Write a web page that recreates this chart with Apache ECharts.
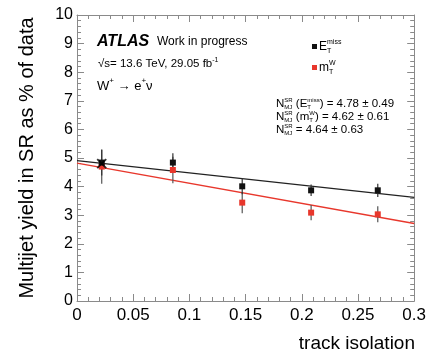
<!DOCTYPE html>
<html>
<head>
<meta charset="utf-8">
<script src="https://cdn.jsdelivr.net/npm/echarts@6/dist/echarts.min.js"></script>
<style>
  html, body { margin: 0; padding: 0; background: #fff; }
  #chart { width: 429px; height: 351px; }
</style>
</head>
<body>
<div id="chart"></div>
<script>
// track isolation bins
var isoBins = [0.022, 0.0853, 0.147, 0.2083, 0.2676];
// multijet yield (% of data), E_T^miss template
var metYield = [4.84, 4.84, 4.01, 3.87, 3.87];
var metErr = [0.45, 0.33, 0.28, 0.20, 0.23];
// multijet yield (% of data), m_T^W template
var mtwYield = [4.70, 4.58, 3.44, 3.09, 3.03];
var mtwErr = [0.60, 0.46, 0.37, 0.27, 0.28];
// linear fits, values at the edges of the x range
var fitX = [0, 0.3];
var metFit = [4.91, 3.62];
var mtwFit = [4.82, 2.71];
// combined point (cross marker)
var comboX = [0.022];
var comboY = [4.80];

var FONT = '"Liberation Sans", Arial, sans-serif';
var RED = '#e8372c';
var BLACK = '#111';
var FRAME = '#8a8a8a';

var measure = document.createElement('canvas').getContext('2d');
function textWidth(t, size, pre) {
  measure.font = (pre || '') + ' ' + size + 'px ' + FONT;
  return measure.measureText(t).width;
}

// text with super/subscripts, parts = [{t, sup, sub}]
function formula(x, y, parts, size, color, smallSize, shift) {
  var els = [];
  var cx = x;
  var small = smallSize || Math.round(size * 0.62);
  var k = shift || 0.38;
  parts.forEach(function(p) {
    if (p.t) {
      els.push({type: 'text', x: cx, y: y, silent: true,
        style: {text: p.t, font: size + 'px ' + FONT, fill: color, align: 'left', verticalAlign: 'middle'}});
      cx += textWidth(p.t, size);
    }
    var sw = 0;
    if (p.sup) {
      els.push({type: 'text', x: cx, y: y - size * k, silent: true,
        style: {text: p.sup, font: small + 'px ' + FONT, fill: color, align: 'left', verticalAlign: 'middle'}});
      sw = textWidth(p.sup, small);
    }
    if (p.sub) {
      els.push({type: 'text', x: cx, y: y + size * k * 0.85, silent: true,
        style: {text: p.sub, font: small + 'px ' + FONT, fill: color, align: 'left', verticalAlign: 'middle'}});
      sw = Math.max(sw, textWidth(p.sub, small));
    }
    cx += sw;
  });
  return els;
}

function pairs(xs, ys) {
  return xs.map(function(x, i) { return [x, ys[i]]; });
}

function errorSeries(ys, errs, color) {
  return {
    type: 'custom',
    z: 3,
    data: isoBins.map(function(x, i) { return [x, ys[i] - errs[i], ys[i] + errs[i]]; }),
    renderItem: function(params, api) {
      var lo = api.coord([api.value(0), api.value(1)]);
      var hi = api.coord([api.value(0), api.value(2)]);
      return {type: 'line', shape: {x1: lo[0], y1: lo[1], x2: hi[0], y2: hi[1]},
        style: {stroke: color, lineWidth: 1.2}};
    }
  };
}

var axisCommon = {
  type: 'value',
  axisLine: {show: true, onZero: false, lineStyle: {color: FRAME, width: 1}},
  axisTick: {show: true, inside: true, length: 7, lineStyle: {color: FRAME}},
  minorTick: {show: true, splitNumber: 5, length: 4, lineStyle: {color: FRAME}},
  splitLine: {show: false}
};

var chart = echarts.init(document.getElementById('chart'), null, {renderer: 'canvas'});

var graphics = [];
graphics.push({type: 'text', left: 97, top: 34, silent: true,
  style: {text: 'ATLAS', font: 'italic bold 16px ' + FONT, fill: '#000'}});
graphics.push({type: 'text', left: 157, top: 36, silent: true,
  style: {text: 'Work in progress', font: '12px ' + FONT, fill: '#000'}});
graphics = graphics.concat(formula(98, 64, [{t: '\u221As= 13.6 TeV, 29.05 fb', sup: '-1'}], 11.5, '#000', 7));
graphics = graphics.concat(formula(97, 86, [{t: 'W', sup: '+'}, {t: ' \u2192 e', sup: '+'}, {t: '\u03BD'}], 13, '#000', 8));
// legend
graphics.push({type: 'rect', shape: {x: 312, y: 44, width: 5, height: 5}, style: {fill: BLACK}, silent: true});
graphics = graphics.concat(formula(319, 47, [{t: 'E', sup: 'miss', sub: 'T'}], 12, '#000', 7));
graphics.push({type: 'rect', shape: {x: 312, y: 65, width: 5, height: 5}, style: {fill: RED}, silent: true});
graphics = graphics.concat(formula(319, 68, [{t: 'm', sup: 'W', sub: 'T'}], 12, '#000', 7));
// fitted normalisations
graphics = graphics.concat(formula(276, 104, [{t: 'N', sup: 'SR', sub: 'MJ'}, {t: ' (E', sup: 'miss', sub: 'T'}, {t: ') = 4.78 \u00B1 0.49'}], 11.5, '#000', 6, 0.33));
graphics = graphics.concat(formula(276, 117, [{t: 'N', sup: 'SR', sub: 'MJ'}, {t: ' (m', sup: 'W', sub: 'T'}, {t: ') = 4.62 \u00B1 0.61'}], 11.5, '#000', 6, 0.33));
graphics = graphics.concat(formula(276, 130, [{t: 'N', sup: 'SR', sub: 'MJ'}, {t: ' = 4.64 \u00B1 0.63'}], 11.5, '#000', 6, 0.33));
graphics.push({type: 'text', right: 14, top: 334, silent: true,
  style: {text: 'track isolation', font: '19px ' + FONT, fill: '#000'}});

var option = {
  backgroundColor: '#fff',
  animation: false,
  textStyle: {fontFamily: FONT},
  grid: {left: 77, right: 14, top: 15, bottom: 50},
  xAxis: [
    Object.assign({}, axisCommon, {
      position: 'bottom', min: 0, max: 0.3, interval: 0.05,
      axisLabel: {color: '#000', fontSize: 17, margin: 6,
        formatter: function(v) { return String(+v.toFixed(2)); }}
    }),
    Object.assign({}, axisCommon, {
      position: 'top', min: 0, max: 0.3, interval: 0.05, axisLabel: {show: false}
    })
  ],
  yAxis: [
    Object.assign({}, axisCommon, {
      position: 'left', min: 0, max: 10, interval: 1,
      name: 'Multijet yield in SR as % of data', nameLocation: 'middle', nameGap: 40,
      nameTextStyle: {color: '#000', fontSize: 20, fontFamily: FONT},
      axisLabel: {color: '#000', fontSize: 16, margin: 4}
    }),
    Object.assign({}, axisCommon, {
      position: 'right', min: 0, max: 10, interval: 1, axisLabel: {show: false}
    })
  ],
  series: [
    {type: 'line', data: pairs(fitX, metFit), symbol: 'none', z: 2,
      lineStyle: {color: '#222', width: 1.3}},
    {type: 'line', data: pairs(fitX, mtwFit), symbol: 'none', z: 2,
      lineStyle: {color: RED, width: 1.3}},
    errorSeries(mtwYield, mtwErr, '#555'),
    errorSeries(metYield, metErr, '#333'),
    {type: 'scatter', data: pairs(isoBins, mtwYield), symbol: 'rect', symbolSize: 6, z: 4,
      itemStyle: {color: RED, opacity: 1}},
    {type: 'scatter', data: pairs(isoBins, metYield), symbol: 'rect', symbolSize: 6, z: 5,
      itemStyle: {color: BLACK, opacity: 1}},
    {type: 'scatter', data: pairs(comboX, comboY), z: 6,
      symbol: 'path://M0,0L10,10M10,0L0,10', symbolSize: 9,
      itemStyle: {color: 'none', borderColor: '#000', borderWidth: 1.8}}
  ],
  graphic: graphics
};
chart.setOption(option);
</script>
</body>
</html>
